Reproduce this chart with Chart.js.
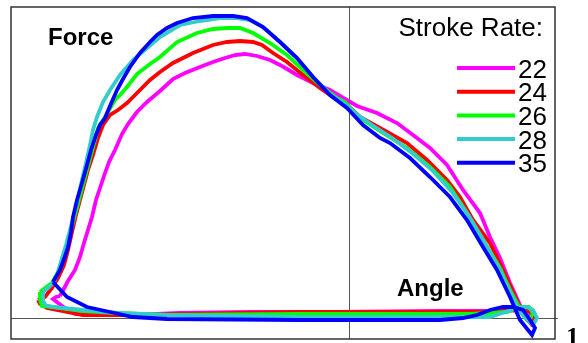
<!DOCTYPE html>
<html>
<head>
<meta charset="utf-8">
<script src="https://cdn.jsdelivr.net/npm/chart.js@4.4.1/dist/chart.umd.min.js"></script>
<style>
  body { margin: 0; background: #fff; }
  #wrap { width: 588px; height: 343px; position: relative; }
</style>
</head>
<body>
<div id="wrap"><canvas id="forceChart"></canvas></div>
<script>
// Stroke rates (legend labels) and line colours
const rates = ['22', '24', '26', '28', '35'];
const colors = ['#FF00FF', '#FF0000', '#00FF00', '#33CCCC', '#0000FF'];

// Angle (deg) / force traces, one loop per stroke rate
const angle22 = [-57.8, -56.2, -54.8, -53.8, -53.0, -52.2, -51.4, -50.6, -49.8, -49.0, -48.0, -46.8, -45.4, -44.2, -42.4, -40.4, -37.8, -35.2, -32.8, -29.8, -27.2, -24.8, -22.8, -20.8, -18.4, -15.8, -13.4, -10.4, -7.2, -3.8, -1.8, 1.6, 5.6, 9.6, 12.8, 16.2, 19.6, 22.8, 26.2, 28.2, 30.2, 32.2, 34.2, 35.4, 36.4, 37.0, 35.8, 33.2, 29.2, 18.2, -2.4, -19.8, -33.8, -43.2, -51.2, -54.8, -57.4, -59.2, -58.6, -57.8];
const force22 = [44, 74, 96, 122, 150, 176, 202, 236, 260, 284, 312, 336, 368, 388, 412, 432, 454, 478, 490, 502, 512, 520, 526, 528, 524, 516, 504, 486, 470, 456, 444, 424, 410, 390, 366, 340, 306, 256, 210, 162, 120, 70, 26, 0, -12, 0, 14, 16, 14, 14, 12, 12, 10, 6, 6, 8, 24, 38, 42, 44];

const angle24 = [-62.2, -60.8, -59.4, -58.2, -57.0, -56.2, -55.4, -54.6, -53.8, -53.0, -52.2, -51.2, -50.2, -49.2, -47.8, -46.2, -44.4, -42.4, -39.8, -37.8, -35.2, -31.2, -27.2, -24.4, -21.8, -19.2, -17.4, -15.2, -12.4, -9.2, -5.8, -3.2, -0.8, 2.2, 6.2, 11.6, 15.6, 19.6, 22.2, 24.8, 28.2, 30.8, 32.8, 34.4, 35.6, 36.6, 37.2, 36.2, 33.2, 28.2, 18.2, -9.8, -43.2, -53.2, -60.4, -61.8, -62.2];
const force24 = [36, 42, 60, 80, 106, 136, 172, 206, 236, 266, 296, 326, 360, 386, 406, 416, 430, 450, 476, 492, 510, 530, 546, 552, 554, 552, 546, 530, 512, 486, 460, 442, 430, 402, 380, 350, 316, 276, 242, 196, 150, 96, 52, 16, -4, -12, 0, 14, 16, 12, 12, 12, 6, 6, 20, 28, 36];

const angle26 = [-61.8, -60.8, -59.4, -58.2, -57.2, -56.4, -55.6, -54.8, -54.0, -53.2, -52.4, -51.6, -50.8, -50.2, -48.8, -46.8, -45.8, -44.4, -42.4, -39.8, -37.8, -34.4, -30.4, -27.2, -24.4, -21.8, -19.2, -15.8, -12.4, -9.2, -5.8, -2.4, -0.8, 2.2, 6.8, 11.6, 16.2, 20.2, 23.6, 26.8, 30.2, 32.2, 33.8, 35.0, 36.2, 36.8, 36.0, 34.0, 31.6, 24.2, -9.8, -36.4, -46.4, -53.2, -59.2, -61.4, -61.8, -61.8];
const force26 = [52, 60, 70, 92, 120, 146, 176, 206, 236, 266, 296, 326, 356, 380, 402, 436, 446, 462, 488, 508, 522, 552, 570, 578, 580, 580, 570, 550, 526, 496, 466, 440, 432, 400, 370, 340, 302, 262, 210, 156, 100, 56, 26, 4, -2, 10, 22, 22, 12, 8, 8, 6, 10, 14, 22, 24, 36, 52];

const angle28 = [-61.2, -60.2, -59.0, -58.2, -57.4, -56.6, -55.8, -55.0, -54.2, -53.4, -52.6, -51.8, -51.2, -50.4, -49.2, -47.8, -45.8, -43.2, -40.4, -37.8, -33.8, -29.8, -25.8, -22.4, -19.8, -17.2, -13.8, -10.4, -7.2, -3.8, -0.8, 1.2, 4.6, 8.6, 12.6, 16.6, 20.6, 24.0, 27.2, 30.0, 32.2, 33.8, 35.2, 36.8, 37.6, 36.8, 35.6, 33.6, 28.2, 18.2, -9.8, -36.4, -46.4, -53.2, -59.2, -60.8, -61.2, -61.2];
const force28 = [52, 60, 72, 92, 120, 146, 176, 206, 240, 276, 310, 346, 376, 402, 432, 456, 486, 516, 540, 562, 586, 594, 600, 600, 596, 582, 552, 520, 482, 448, 428, 410, 386, 360, 330, 296, 252, 204, 150, 100, 52, 20, 0, -14, 0, 16, 22, 20, 2, 2, 2, 6, 10, 16, 22, 26, 36, 52];

const angle35 = [-59.2, -57.8, -57.0, -56.2, -55.6, -55.2, -54.4, -53.4, -52.4, -51.6, -50.6, -49.8, -48.8, -47.8, -46.4, -45.2, -43.8, -41.8, -39.8, -38.4, -36.4, -34.4, -31.2, -27.2, -23.2, -20.4, -17.2, -13.8, -10.4, -7.2, -3.8, -0.4, 2.8, 6.2, 8.2, 12.2, 16.2, 20.2, 23.6, 26.8, 29.6, 32.2, 34.2, 36.6, 37.2, 36.2, 34.8, 32.8, 30.8, 28.2, 25.6, 22.8, 18.2, -9.8, -36.4, -43.2, -47.8, -52.4, -56.4, -59.2];
const force35 = [72, 96, 118, 142, 172, 202, 236, 270, 306, 336, 366, 386, 400, 424, 456, 478, 502, 530, 552, 566, 580, 590, 600, 604, 604, 600, 582, 552, 520, 482, 446, 420, 386, 360, 350, 320, 282, 242, 196, 142, 96, 42, -4, -34, -20, -4, 16, 22, 22, 16, 6, 0, -4, -4, -2, 2, 12, 22, 42, 72];

const angles = [angle22, angle24, angle26, angle28, angle35];
const forces = [force22, force24, force26, force28, force35];

function toPoints(xs, ys) {
  return xs.map((x, i) => ({ x: x, y: ys[i] }));
}

const datasets = rates.map((r, i) => ({
  label: r,
  data: toPoints(angles[i], forces[i]),
  borderColor: colors[i],
  backgroundColor: colors[i],
  borderWidth: 3.8,
  pointRadius: 0,
  showLine: true,
  tension: 0,
  order: rates.length - i // 35 drawn on top
}));

// axis lines, border, labels and legend
const decorations = {
  id: 'decorations',
  beforeDatasetsDraw(chart) {
    const { ctx, chartArea, scales } = chart;
    const x0 = scales.x.getPixelForValue(0);
    const y0 = scales.y.getPixelForValue(0);
    ctx.save();
    ctx.strokeStyle = '#555';
    ctx.lineWidth = 1;
    ctx.beginPath();
    ctx.moveTo(Math.round(x0) + 0.5, chartArea.top);
    ctx.lineTo(Math.round(x0) + 0.5, chartArea.bottom);
    ctx.moveTo(chartArea.left, Math.round(y0) + 0.5);
    ctx.lineTo(chartArea.right + 3, Math.round(y0) + 0.5);
    ctx.stroke();
    ctx.restore();
  },
  afterDraw(chart) {
    const { ctx, chartArea } = chart;
    ctx.save();
    ctx.strokeStyle = '#333';
    ctx.lineWidth = 1.5;
    ctx.strokeRect(chartArea.left, chartArea.top, chartArea.right - chartArea.left, chartArea.bottom - chartArea.top);

    ctx.fillStyle = '#000';
    ctx.textBaseline = 'alphabetic';
    ctx.font = 'bold 24px "Liberation Sans", Arial, sans-serif';
    ctx.textAlign = 'left';
    ctx.fillText('Force', 48, 45);
    ctx.fillText('Angle', 397, 296);

    ctx.font = '26px "Liberation Sans", Arial, sans-serif';
    ctx.textAlign = 'right';
    ctx.fillText('Stroke Rate:', 543, 36);

    // legend rows
    ctx.textAlign = 'left';
    chart.data.datasets.forEach((ds, i) => {
      const y = 68 + i * 23.7;
      ctx.strokeStyle = ds.borderColor;
      ctx.lineWidth = 4;
      ctx.beginPath();
      ctx.moveTo(457, y);
      ctx.lineTo(515, y);
      ctx.stroke();
      ctx.fillStyle = '#000';
      ctx.fillText(ds.label, 518, y + 9.5);
    });

    ctx.font = 'bold 26px "Liberation Serif", "Times New Roman", serif';
    ctx.fillText('1', 566, 345);
    ctx.restore();
  }
};

new Chart(document.getElementById('forceChart'), {
  type: 'scatter',
  data: { datasets: datasets },
  options: {
    responsive: true,
    maintainAspectRatio: false,
    animation: false,
    layout: { padding: { left: 11, right: 33, top: 7, bottom: 4 } },
    scales: {
      x: { type: 'linear', min: -67.6, max: 41.2, display: false },
      y: { type: 'linear', min: -42, max: 622, display: false }
    },
    plugins: {
      legend: { display: false },
      tooltip: { enabled: false }
    }
  },
  plugins: [decorations]
});
</script>
</body>
</html>
